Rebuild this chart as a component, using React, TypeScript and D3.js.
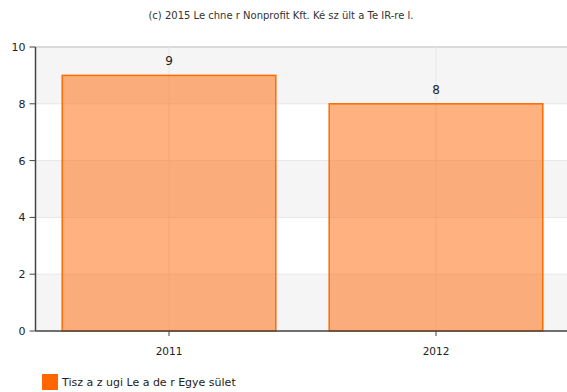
import React from "react";
import * as d3 from "d3";

const categories = ["2011", "2012"];
const values = [9, 8];
const yTicks = [0, 2, 4, 6, 8, 10];
const seriesName = "Tisz a z ugi Le a de r Egye sület";
const title = "(c) 2015 Le chne r Nonprofit Kft. Ké sz ült a  Te IR-re l.";

export default function App() {
  const W = 567, H = 392;
  const left = 35.5, right = 569.5, top = 47, bottom = 331;
  const x = d3.scaleBand().domain(categories).range([left, right]).paddingInner(0.2).paddingOuter(0.1);
  const xc = d3.scalePoint().domain(categories).range([left, right]).padding(0.5);
  const y = d3.scaleLinear().domain([0, 10]).range([bottom, top]);
  const font = "DejaVu Sans, Verdana, sans-serif";
  const bands = [] as JSX.Element[];
  for (let i = 0; i < yTicks.length - 1; i++) {
    if (i % 2 === 0) {
      bands.push(
        <rect key={"b" + i} x={left} y={y(yTicks[i + 1])} width={W - left} height={y(yTicks[i]) - y(yTicks[i + 1])} fill="#f5f5f5" />
      );
    }
  }
  const bw = x.bandwidth();
  return (
    <svg width={W} height={H} style={{ position: "absolute", left: 0, top: 0 }} fontFamily={font}>
      <rect x={0} y={0} width={W} height={H} fill="#fff" />
      <text x={281} y={19} fontSize={10} textAnchor="middle" fill="#333">{title}</text>
      {bands}
      {yTicks.map((t) => (
        <line key={"g" + t} x1={left} x2={W} y1={y(t)} y2={y(t)} stroke={t === 10 ? "#cfcfcf" : "#e6e6e6"} strokeWidth={t === 10 ? 1.5 : 1} />
      ))}
      {categories.map((c) => (
        <line key={"v" + c} x1={xc(c)} x2={xc(c)} y1={top} y2={bottom} stroke="#e6e6e6" />
      ))}
      {categories.map((c, i) => (
        <g key={"bar" + c}>
          <rect x={(xc(c) as number) - bw / 2} y={y(values[i])} width={bw} height={y(0) - y(values[i])} fill="#ff6600" fillOpacity={0.5} stroke="#ff6a00" strokeWidth={1.5} />
          <text x={xc(c)} y={y(values[i]) - 10} fontSize={12} textAnchor="middle" fill="#222">{values[i]}</text>
        </g>
      ))}
      <line x1={left} x2={left} y1={top} y2={bottom} stroke="#444" strokeWidth={1.5} />
      <line x1={left} x2={W} y1={bottom} y2={bottom} stroke="#444" strokeWidth={1.5} />
      {yTicks.map((t) => (
        <g key={"yt" + t}>
          <line x1={left - 6} x2={left} y1={y(t)} y2={y(t)} stroke="#444" />
          <text x={left - 10} y={y(t) + 4} fontSize={11} textAnchor="end" fill="#222">{t}</text>
        </g>
      ))}
      {categories.map((c) => (
        <g key={"xt" + c}>
          <line x1={xc(c)} x2={xc(c)} y1={bottom} y2={bottom + 5} stroke="#444" />
          <text x={xc(c)} y={bottom + 24} fontSize={10.5} textAnchor="middle" fill="#222">{c}</text>
        </g>
      ))}
      <rect x={42} y={374} width={16} height={16} fill="#ff6600" />
      <text x={62} y={386} fontSize={11} fill="#222">{seriesName}</text>
    </svg>
  );
}
